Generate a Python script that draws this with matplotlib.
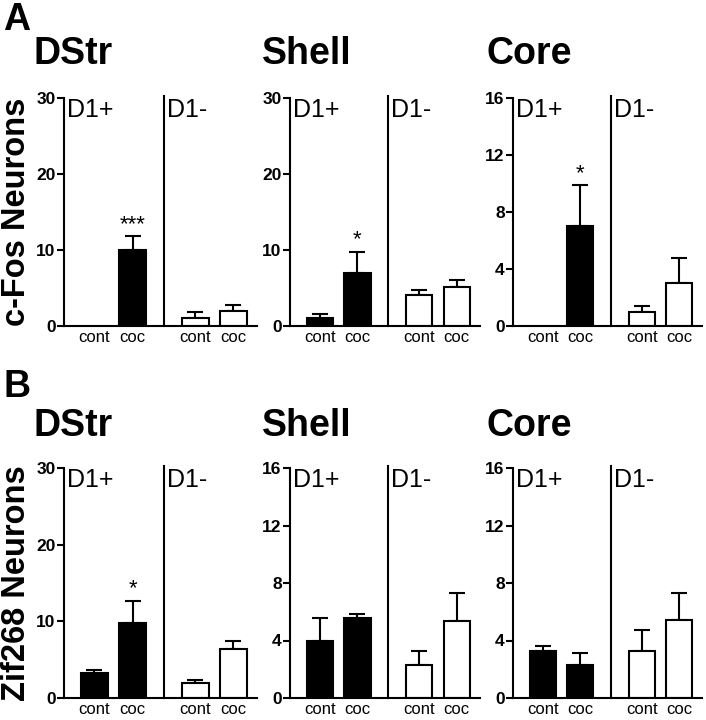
import matplotlib
matplotlib.use("Agg")
import matplotlib.pyplot as plt

plt.rcParams['font.family'] = ['Liberation Sans', 'DejaVu Sans']

W, H = 706, 720
regions = ["DStr", "Shell", "Core"]
groups = ["cont", "coc", "cont", "coc"]
cells = ["D1+", "D1-"]

# c-Fos (row A): means and SEM (upper error)
cfos_mean = {"DStr": [0, 10.0, 1.0, 2.0],
             "Shell": [1.0, 7.0, 4.1, 5.1],
             "Core": [0, 7.0, 1.0, 3.0]}
cfos_sem = {"DStr": [0, 1.8, 0.8, 0.8],
            "Shell": [0.6, 2.8, 0.7, 1.0],
            "Core": [0, 2.9, 0.4, 1.8]}
cfos_ymax = {"DStr": 30, "Shell": 30, "Core": 16}
cfos_yticks = {"DStr": [0, 10, 20, 30], "Shell": [0, 10, 20, 30], "Core": [0, 4, 8, 12, 16]}
cfos_stars = {"DStr": "***", "Shell": "*", "Core": "*"}

# Zif268 (row B)
zif_mean = {"DStr": [3.3, 9.8, 1.9, 6.4],
            "Shell": [4.0, 5.6, 2.3, 5.35],
            "Core": [3.3, 2.3, 3.3, 5.4]}
zif_sem = {"DStr": [0.4, 2.9, 0.5, 1.1],
           "Shell": [1.6, 0.25, 1.0, 1.95],
           "Core": [0.3, 0.8, 1.4, 1.9]}
zif_ymax = {"DStr": 30, "Shell": 16, "Core": 16}
zif_yticks = {"DStr": [0, 10, 20, 30], "Shell": [0, 4, 8, 12, 16], "Core": [0, 4, 8, 12, 16]}
zif_stars = {"DStr": "*", "Shell": "", "Core": ""}

xpos = [0, 1, 2.65, 3.65]
divider = 1.825
colors = ["black", "black", "white", "white"]

fig = plt.figure(figsize=(W / 100, H / 100), dpi=100)

cols = [(64, 257), (290, 480), (513, 702)]
rows = [(98, 326), (468, 698)]


def add_ax(x0, x1, y0, y1):
    return fig.add_axes([x0 / W, 1 - y1 / H, (x1 - x0) / W, (y1 - y0) / H])


def draw_panel(ax, means, sems, ymax, yticks, stars):
    for i in range(4):
        if means[i] > 0:
            ax.bar(xpos[i], means[i], width=0.7, color=colors[i], edgecolor="black",
                   linewidth=1.5, zorder=2)
            ax.errorbar(xpos[i], means[i], yerr=[[0], [sems[i]]], fmt="none",
                        ecolor="black", elinewidth=1.5, capsize=6, capthick=1.5, zorder=1)
    if stars:
        ax.text(xpos[1], means[1] + sems[1] + ymax * 0.005, stars, ha="center",
                va="bottom", fontsize=16)
    ax.set_xlim(-0.8, 4.27)
    ax.set_ylim(0, ymax)
    ax.set_yticks(yticks)
    ax.set_yticklabels([str(t) for t in yticks], fontweight="bold", fontsize=12.5)
    ax.set_xticks(xpos)
    ax.set_xticklabels(groups, fontsize=12)
    ax.tick_params(axis="x", length=0, pad=3)
    ax.tick_params(axis="y", length=5, width=1.5, pad=1, direction="out")
    for s in ["top", "right"]:
        ax.spines[s].set_visible(False)
    for s in ["left", "bottom"]:
        ax.spines[s].set_linewidth(1.5)
    ax.plot([divider, divider], [0, ymax * 1.01], color="black", lw=1.5, clip_on=False)
    ax.text(-0.72, ymax * 1.0, cells[0], ha="left", va="top", fontsize=18)
    ax.text(divider + 0.08, ymax * 1.0, cells[1], ha="left", va="top", fontsize=18)


for r, (means, sems, ymaxs, yts, sts) in enumerate([
        (cfos_mean, cfos_sem, cfos_ymax, cfos_yticks, cfos_stars),
        (zif_mean, zif_sem, zif_ymax, zif_yticks, zif_stars)]):
    y0, y1 = rows[r]
    for c, reg in enumerate(regions):
        x0, x1 = cols[c]
        ax = add_ax(x0, x1, y0, y1)
        draw_panel(ax, means[reg], sems[reg], ymaxs[reg], yts[reg], sts[reg])

# Titles
title_x = [34, 262, 487]
for r, (letter, letter_y, base_y, lab_y, ylabel) in enumerate([
        ("A", 30, 64, 212, "c-Fos Neurons"),
        ("B", 397, 436, 583, "Zif268 Neurons")]):
    fig.text(3 / W, 1 - letter_y / H, letter, fontsize=27, fontweight="bold",
             ha="left", va="baseline")
    for c, reg in enumerate(regions):
        fig.text(title_x[c] / W, 1 - base_y / H, reg, fontsize=27, fontweight="bold",
                 ha="left", va="baseline")
    fig.text(17 / W, 1 - lab_y / H, ylabel, fontsize=23.5, fontweight="bold",
             rotation=90, ha="center", va="center")

fig.savefig("out.png", dpi=100)
